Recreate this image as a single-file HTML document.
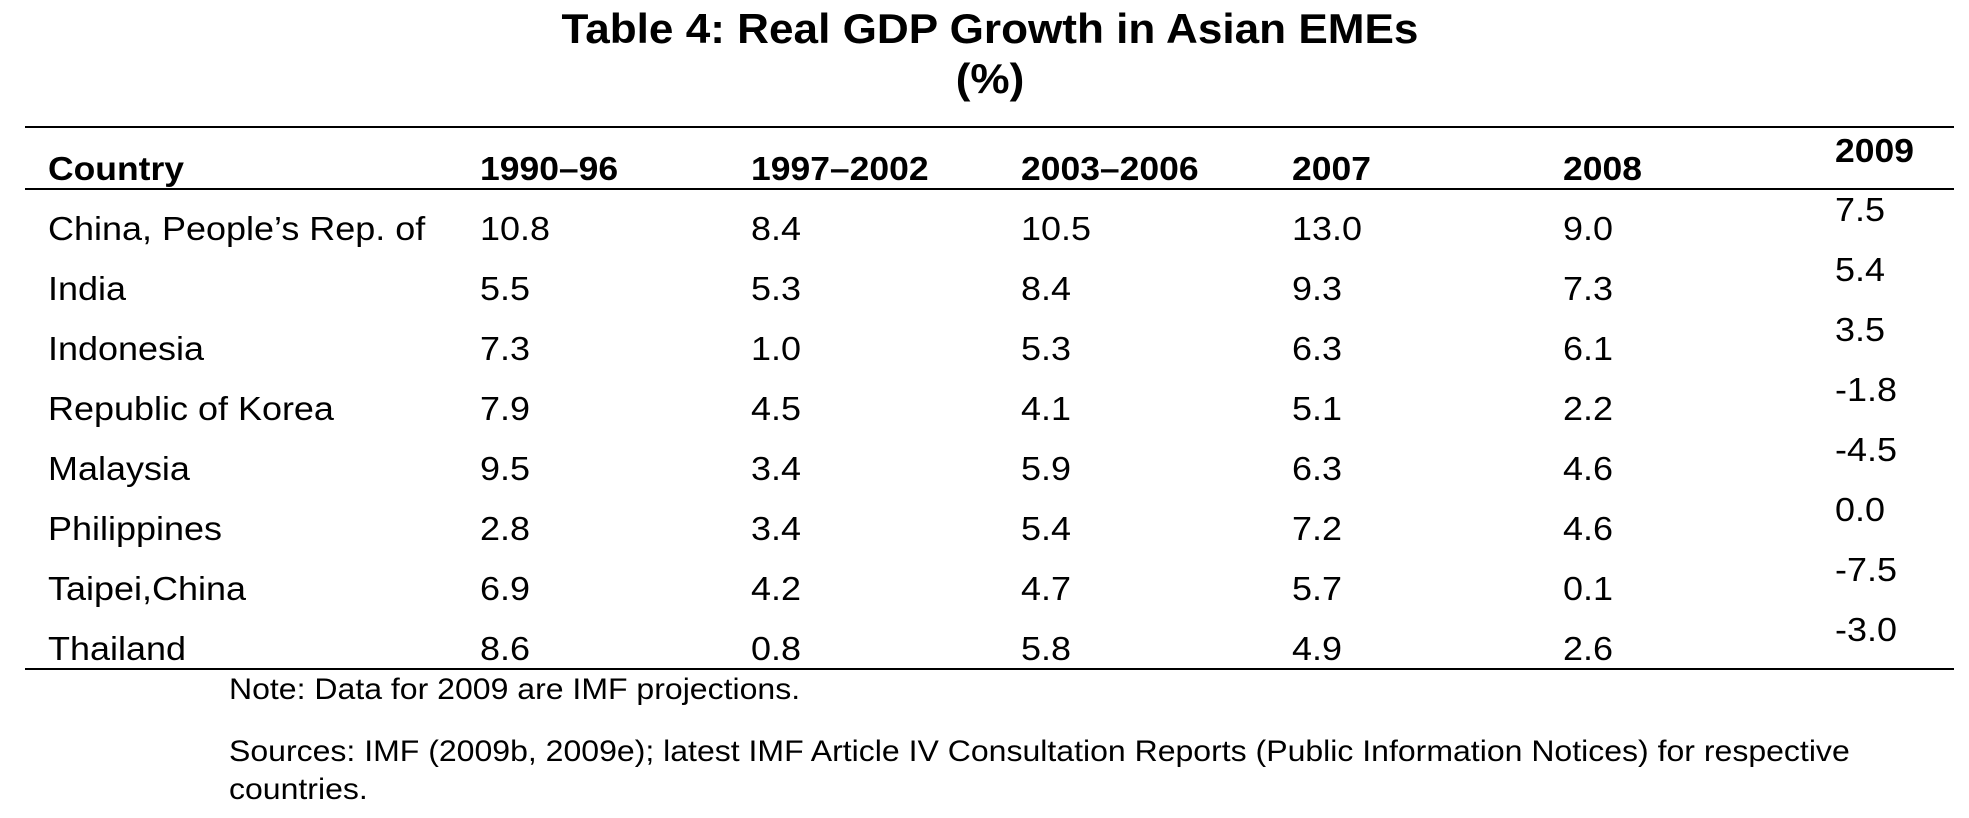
<!DOCTYPE html>
<html><head><meta charset="utf-8"><style>
body{margin:0;width:1969px;height:818px;background:#fff;position:relative;overflow:hidden;font-family:"Liberation Sans",Arial,sans-serif;color:#000}
.t{position:absolute;white-space:nowrap;line-height:1;transform-origin:left top}
.title{font-weight:bold;font-size:42px;left:0;width:1980px;text-align:center;transform:scaleX(1.05);transform-origin:990px 0}
.rule{position:absolute;left:25px;width:1929px;height:2px;background:#000}
.h{font-weight:bold;font-size:33px;transform:scaleX(1.075)}
.c{font-size:33px;transform:scaleX(1.09)}
.n{font-size:30px;transform:scaleX(1.067)}
</style></head><body>
<div class="t title" style="top:8px">Table 4: Real GDP Growth in Asian EMEs</div>
<div class="t title" style="top:58px">(%)</div>
<div class="rule" style="top:126px"></div>
<div class="rule" style="top:188px"></div>
<div class="rule" style="top:668px"></div>
<div id="tbl"></div>
<div class="t n" style="left:229px;top:675px">Note: Data for 2009 are IMF projections.</div>
<div class="t n" style="left:229px;top:737px">Sources: IMF (2009b, 2009e); latest IMF Article IV Consultation Reports (Public Information Notices) for respective</div>
<div class="t n" style="left:229px;top:775px">countries.</div>
<script>
const headers=["Country","1990–96","1997–2002","2003–2006","2007","2008","2009"];
const countries=["China, People’s Rep. of","India","Indonesia","Republic of Korea","Malaysia","Philippines","Taipei,China","Thailand"];
const v9096=["10.8","5.5","7.3","7.9","9.5","2.8","6.9","8.6"];
const v9702=["8.4","5.3","1.0","4.5","3.4","3.4","4.2","0.8"];
const v0306=["10.5","8.4","5.3","4.1","5.9","5.4","4.7","5.8"];
const v2007=["13.0","9.3","6.3","5.1","6.3","7.2","5.7","4.9"];
const v2008=["9.0","7.3","6.1","2.2","4.6","4.6","0.1","2.6"];
const v2009=["7.5","5.4","3.5","-1.8","-4.5","0.0","-7.5","-3.0"];
const colX=[48,480,751,1021,1292,1563,1835];
const tbl=document.getElementById('tbl');
headers.forEach((h,i)=>{
  const d=document.createElement('div');
  d.className='t h';d.textContent=h;
  
  
  d.style.left=colX[i]+'px';
  d.style.top=(i==6?134:152)+'px';
  tbl.appendChild(d);
});
const cols=[countries,v9096,v9702,v0306,v2007,v2008,v2009];
countries.forEach((c,r)=>{
  cols.forEach((col,i)=>{
    const d=document.createElement('div');
    d.className='t c';d.textContent=col[r];
    
    
    d.style.left=colX[i]+'px';
    d.style.top=(212+r*60-(i==6?19:0))+'px';
    tbl.appendChild(d);
  });
});
</script>
</body></html>
